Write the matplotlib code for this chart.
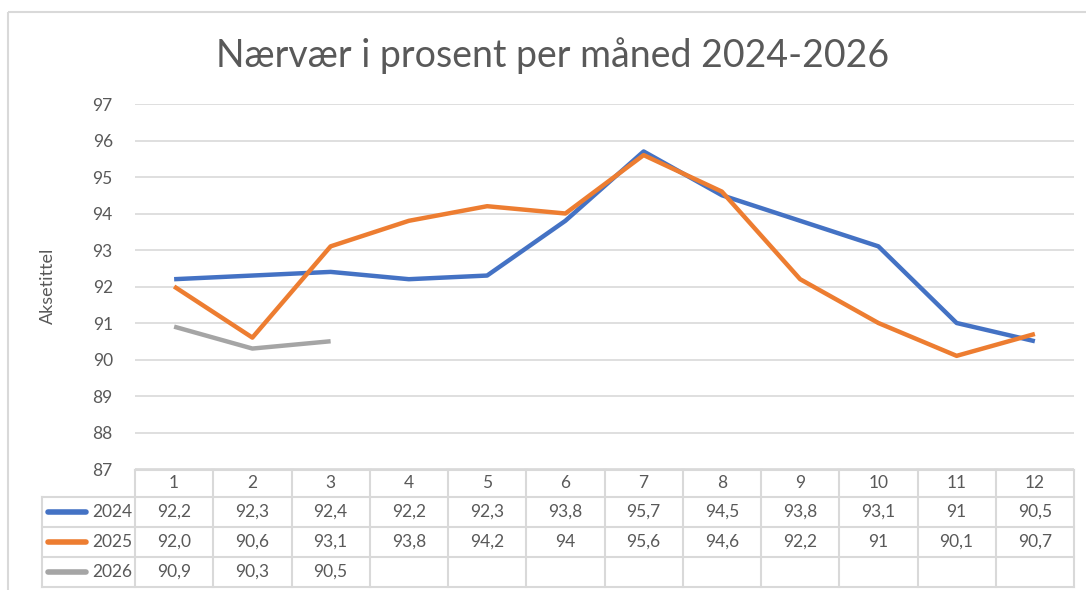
import matplotlib.pyplot as plt
from matplotlib.lines import Line2D
from matplotlib.patches import Rectangle

plt.rcParams["font.family"] = ["Lato", "DejaVu Sans"]

# data
months = [1, 2, 3, 4, 5, 6, 7, 8, 9, 10, 11, 12]
years = ["2024", "2025", "2026"]
v2024 = [92.2, 92.3, 92.4, 92.2, 92.3, 93.8, 95.7, 94.5, 93.8, 93.1, 91.0, 90.5]
v2025 = [92.0, 90.6, 93.1, 93.8, 94.2, 94.0, 95.6, 94.6, 92.2, 91.0, 90.1, 90.7]
v2026 = [90.9, 90.3, 90.5]
# labels as shown in the data table
lab2024 = ["92,2", "92,3", "92,4", "92,2", "92,3", "93,8", "95,7", "94,5", "93,8", "93,1", "91", "90,5"]
lab2025 = ["92,0", "90,6", "93,1", "93,8", "94,2", "94", "95,6", "94,6", "92,2", "91", "90,1", "90,7"]
lab2026 = ["90,9", "90,3", "90,5"]
yticks = [87, 88, 89, 90, 91, 92, 93, 94, 95, 96, 97]

colors = ["#4472C4", "#ED7D31", "#A5A5A5"]
txt = "#595959"
grid = "#D9D9D9"

W, H = 1086, 590
fig = plt.figure(figsize=(W / 100, H / 100), dpi=100)

def px_axes(x0, y0, x1, y1):
    # pixel box (top-left origin) -> figure axes
    return fig.add_axes([x0 / W, 1 - y1 / H, (x1 - x0) / W, (y1 - y0) / H])

# chart frame
frame = fig.add_axes([0, 0, 1, 1])
frame.set_xlim(0, W)
frame.set_ylim(H, 0)
frame.axis("off")
frame.add_patch(Rectangle((8, 12), W + 20, H, fill=False, ec=grid, lw=1.5))

ax = px_axes(135, 104, 1074, 469)
ax.set_xlim(0.5, 12.5)
ax.set_ylim(87, 97)
ax.set_yticks(yticks)
ax.set_xticks([])
for t in yticks:
    ax.axhline(t, color=grid, lw=1.2, zorder=0)
for s in ax.spines.values():
    s.set_visible(False)
ax.tick_params(axis="y", length=0, pad=16, labelsize=12.5, labelcolor=txt)

series = [v2024, v2025, v2026]
for vals, c in zip(series, colors):
    ax.plot(months[:len(vals)], vals, color=c, lw=3.2, solid_capstyle="butt", solid_joinstyle="round")

fig.text(48 / W, 1 - 286 / H, "Aksetittel", rotation=90, ha="center", va="center",
         fontsize=13, color=txt)
fig.text(553 / W, 1 - 56 / H, "Nærvær i prosent per måned 2024-2026", ha="center", va="center",
         fontsize=27, color=txt)

# data table below the axis
tab = px_axes(135, 470, 1074, 587)
tab.set_xlim(0.5, 12.5)
tab.set_ylim(117, 0)
tab.axis("off")
row_edges = [0, 27, 57, 87, 117]
lc = "#D9D9D9"
left = 0.5 - (135 - 42) / (939 / 12)
# horizontal lines
tab.plot([0.5, 12.5], [0, 0], color=lc, lw=1.5, clip_on=False)
for y in row_edges[1:]:
    tab.plot([left, 12.5], [y, y], color=lc, lw=1.5, clip_on=False)
# vertical lines
for i in range(13):
    tab.plot([0.5 + i, 0.5 + i], [0, 117], color=lc, lw=1.5, clip_on=False)
tab.plot([left, left], [27, 117], color=lc, lw=1.5, clip_on=False)

for m in months:
    tab.text(m, 13.5, str(m), ha="center", va="center", fontsize=12.5, color=txt)

labels = [lab2024, lab2025, lab2026]
for r, (yr, labs, c) in enumerate(zip(years, labels, colors)):
    yc = (row_edges[r + 1] + row_edges[r + 2]) / 2
    tab.add_line(Line2D([left + 0.08, left + 0.56], [yc, yc], color=c, lw=4,
                        solid_capstyle="round", clip_on=False))
    tab.text(0.46, yc, yr, ha="right", va="center", fontsize=12.5, color=txt, clip_on=False)
    for m, s in zip(months, labs):
        tab.text(m, yc, s, ha="center", va="center", fontsize=12.5, color=txt)

fig.savefig("out.png", dpi=100)
